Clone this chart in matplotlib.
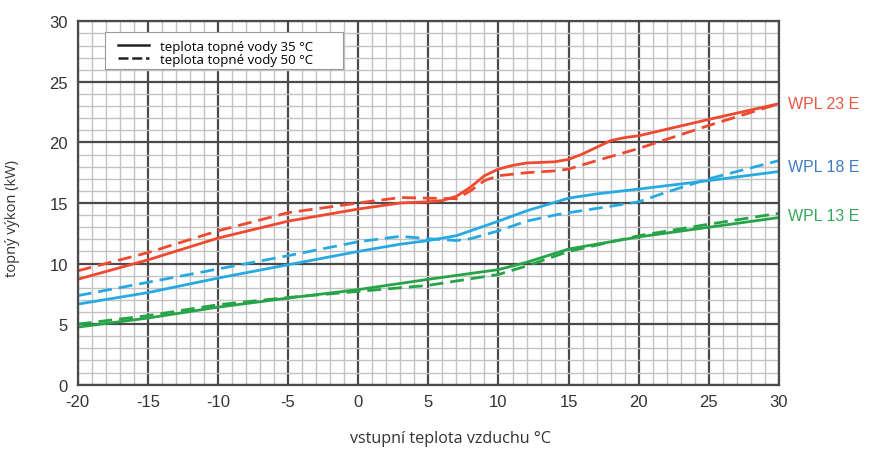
import numpy as np
import matplotlib.pyplot as plt
from matplotlib.ticker import MultipleLocator
from matplotlib.patches import Rectangle

plt.rcParams['axes.unicode_minus'] = False

# vstupni teplota vzduchu (°C) / topny vykon (kW)
T_23_35 = [-20, -15, -10, -5, 0, 3, 5, 6, 7, 8, 9, 10, 11, 12, 14, 15, 16, 17, 18, 19, 20, 25, 30]
P_23_35 = [8.7, 10.3, 12.1, 13.5, 14.5, 15.0, 15.1, 15.2, 15.55, 16.3, 17.25, 17.8, 18.1, 18.3,
           18.4, 18.6, 19.05, 19.6, 20.15, 20.4, 20.55, 21.9, 23.2]
T_23_50 = [-20, -15, -10, -5, 0, 3, 5, 7, 8, 9, 10, 12, 14, 15, 17, 20, 25, 30]
P_23_50 = [9.4, 10.9, 12.7, 14.2, 15.0, 15.45, 15.4, 15.35, 16.0, 16.85, 17.25, 17.5, 17.65,
           17.8, 18.5, 19.5, 21.4, 23.2]

T_18_35 = [-20, -15, -10, -5, 0, 3, 5, 7, 9, 10, 12, 14, 15, 17, 20, 25, 30]
P_18_35 = [6.65, 7.6, 8.8, 9.9, 11.0, 11.6, 11.9, 12.3, 13.1, 13.5, 14.35, 15.05, 15.4, 15.75,
           16.15, 16.85, 17.6]
T_18_50 = [-20, -15, -10, -5, 0, 3, 5, 7, 8, 10, 12, 14, 15, 17, 20, 22, 25, 30]
P_18_50 = [7.35, 8.45, 9.55, 10.65, 11.8, 12.25, 12.05, 11.9, 12.05, 12.7, 13.5, 14.0, 14.2,
           14.55, 15.1, 15.9, 17.0, 18.5]

T_13_35 = [-20, -15, -10, -5, 0, 5, 10, 12, 15, 20, 25, 30]
P_13_35 = [4.75, 5.5, 6.4, 7.15, 7.85, 8.7, 9.5, 10.1, 11.2, 12.2, 13.0, 13.8]
T_13_50 = [-20, -15, -10, -5, 0, 5, 10, 12, 15, 20, 25, 30]
P_13_50 = [5.0, 5.7, 6.6, 7.2, 7.7, 8.2, 9.1, 9.8, 11.0, 12.3, 13.25, 14.15]

MODELS = ['WPL 23 E', 'WPL 18 E', 'WPL 13 E']
LABEL_Y = [23.2, 18.0, 14.0]
LABEL_COLORS = ['#ea5640', '#3f7cc2', '#37a55a']

RED = '#f0492f'
BLUE = '#27aae2'
GREEN = '#27a449'
DASH = (0, (5, 2.5))

fig = plt.figure(figsize=(8.71, 4.52), dpi=100)
ax = fig.add_axes([0.0892, 0.1467, 0.8052, 0.804])

ax.plot(T_23_35, P_23_35, color=RED, lw=2)
ax.plot(T_23_50, P_23_50, color=RED, lw=2, ls=DASH)
ax.plot(T_18_35, P_18_35, color=BLUE, lw=2)
ax.plot(T_18_50, P_18_50, color=BLUE, lw=2, ls=DASH)
ax.plot(T_13_35, P_13_35, color=GREEN, lw=2)
ax.plot(T_13_50, P_13_50, color=GREEN, lw=2, ls=DASH)

ax.set_xlim(-20, 30)
ax.set_ylim(0, 30)
ax.xaxis.set_major_locator(MultipleLocator(5))
ax.yaxis.set_major_locator(MultipleLocator(5))
ax.xaxis.set_minor_locator(MultipleLocator(1))
ax.yaxis.set_minor_locator(MultipleLocator(1))
ax.grid(which='minor', color='#c2c2c2', lw=1.0)
ax.grid(which='major', color='#4a4a4a', lw=1.6)
ax.set_axisbelow(True)
ax.tick_params(which='both', length=0, labelsize=12, labelcolor='#333333', pad=7)
for lab in ax.get_xticklabels() + ax.get_yticklabels():
    lab.set_family('Liberation Sans')
for s in ax.spines.values():
    s.set_color('#4a4a4a')
    s.set_linewidth(1.6)

ax.set_xlabel('vstupní teplota vzduchu °C', family='Open Sans', fontsize=11.6, color='#333333')
ax.xaxis.set_label_coords(0.531, -0.124)
ax.set_ylabel('topný výkon (kW)', family='Open Sans', fontsize=10.5, color='#333333')
ax.yaxis.set_label_coords(-0.082, 0.459)

# popisky modelu
for name, yy, c in zip(MODELS, LABEL_Y, LABEL_COLORS):
    ax.text(30.65, yy, name, color=c, fontsize=11.5, family='Liberation Sans', va='center')

# legenda
ax.add_patch(Rectangle((0.039, 0.869), 0.339, 0.102, transform=ax.transAxes,
                       facecolor='white', edgecolor='#999999', lw=0.8, zorder=4))
ax.plot([], [], color='#222222', lw=1.8, label='teplota topné vody 35 °C')
ax.plot([], [], color='#222222', lw=1.8, ls=(0, (4, 1.5)), label='teplota topné vody 50 °C')
leg = ax.legend(loc='upper left', bbox_to_anchor=(0.042, 0.978), frameon=False,
                prop={'family': 'Open Sans', 'size': 9.5}, handlelength=2.4,
                labelspacing=0.0, borderpad=0.3, handletextpad=0.8)
leg.set_zorder(5)

fig.savefig('out.png', dpi=100)
